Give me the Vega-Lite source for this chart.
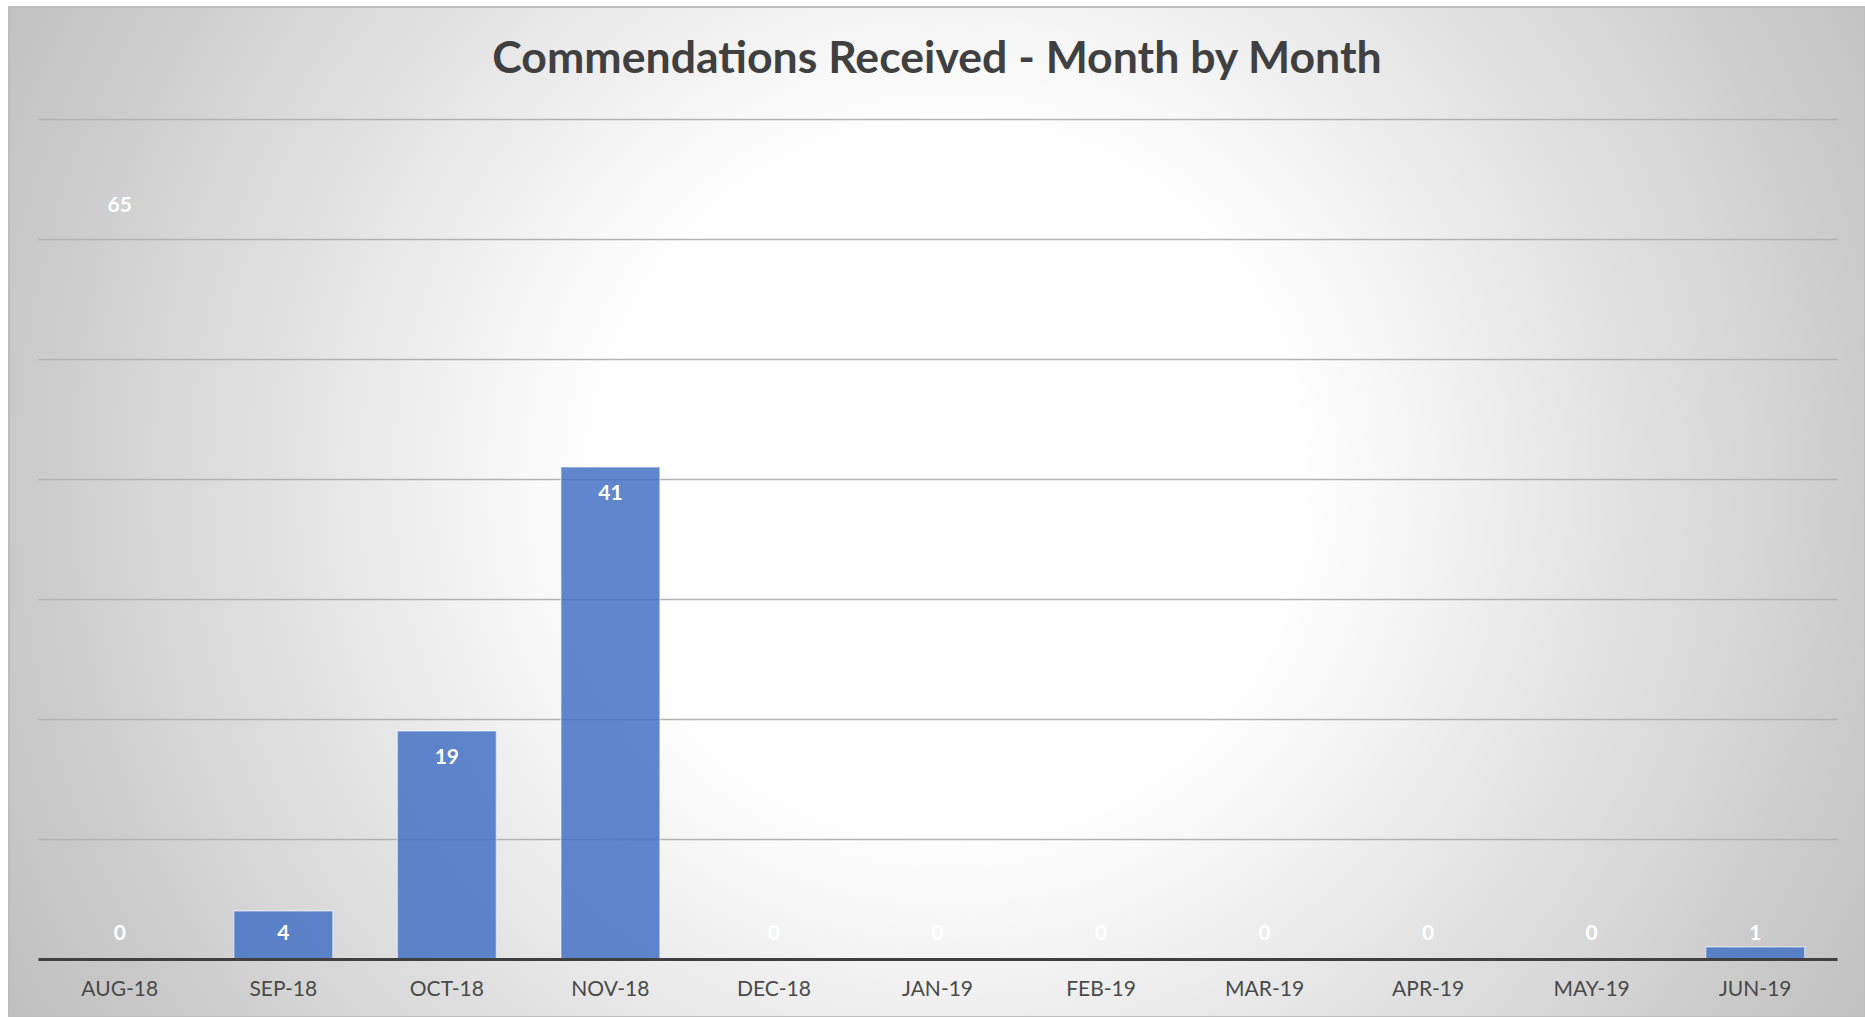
{
  "$schema": "https://vega.github.io/schema/vega-lite/v6.json",
  "width": 1856,
  "height": 1010,
  "autosize": {"type": "none"},
  "padding": {"left": 9, "top": 7, "right": 0, "bottom": 0},
  "background": "white",
  "title": {
    "text": "Commendations Received - Month by Month",
    "font": "Lato",
    "fontSize": 44.6,
    "fontWeight": "bold",
    "color": "#404040",
    "anchor": "middle",
    "frame": "group",
    "offset": -76
  },
  "config": {
    "view": {
      "stroke": "#bdbdbd",
      "strokeWidth": 2,
      "fill": {
        "gradient": "radial",
        "x1": 0.507, "y1": 0.483, "r1": 0,
        "x2": 0.507, "y2": 0.483, "r2": 0.582,
        "stops": [
          {"offset": 0, "color": "#ffffff"},
          {"offset": 0.32, "color": "#ffffff"},
          {"offset": 0.46, "color": "#f2f2f2"},
          {"offset": 0.6, "color": "#e4e4e4"},
          {"offset": 0.75, "color": "#d6d6d6"},
          {"offset": 0.88, "color": "#c9c9c9"},
          {"offset": 1, "color": "#c0c0c0"}
        ]
      }
    }
  },
  "data": {
    "values": [
      {"month": "AUG-18", "series": "Monthly", "count": 0},
      {"month": "SEP-18", "series": "Monthly", "count": 4},
      {"month": "OCT-18", "series": "Monthly", "count": 19},
      {"month": "NOV-18", "series": "Monthly", "count": 41},
      {"month": "DEC-18", "series": "Monthly", "count": 0},
      {"month": "JAN-19", "series": "Monthly", "count": 0},
      {"month": "FEB-19", "series": "Monthly", "count": 0},
      {"month": "MAR-19", "series": "Monthly", "count": 0},
      {"month": "APR-19", "series": "Monthly", "count": 0},
      {"month": "MAY-19", "series": "Monthly", "count": 0},
      {"month": "JUN-19", "series": "Monthly", "count": 1},
      {"month": "AUG-18", "series": "Total", "count": 65}
    ]
  },
  "encoding": {
    "x": {
      "field": "month",
      "type": "nominal",
      "sort": ["AUG-18", "SEP-18", "OCT-18", "NOV-18", "DEC-18", "JAN-19", "FEB-19", "MAR-19", "APR-19", "MAY-19", "JUN-19"],
      "scale": {"range": [29, 1828], "paddingInner": 0.395, "paddingOuter": 0.1975},
      "axis": {
        "title": null,
        "labelAngle": 0,
        "ticks": false,
        "offset": -58,
        "labelPadding": 19,
        "labelFont": "Lato",
        "labelFontSize": 21,
        "labelColor": "#4a4a4a",
        "domainColor": "#404040",
        "domainWidth": 3,
        "grid": false,
        "zindex": 1
      }
    },
    "y": {
      "field": "count",
      "type": "quantitative",
      "scale": {"domain": [0, 70], "range": [952, 112], "nice": false, "zero": true},
      "axis": {
        "title": null,
        "labels": false,
        "ticks": false,
        "domain": false,
        "grid": true,
        "values": [10, 20, 30, 40, 50, 60, 70],
        "gridColor": "#b2b2b2",
        "gridWidth": 1.5
      }
    }
  },
  "layer": [
    {
      "transform": [{"filter": "datum.series === 'Monthly' && datum.count > 0"}],
      "mark": {"type": "bar", "fill": "#4472c4", "fillOpacity": 0.85, "stroke": "#ffffff", "strokeOpacity": 0.45, "strokeWidth": 1.5}
    },
    {
      "transform": [{"filter": "datum.count >= 5"}],
      "mark": {"type": "text", "baseline": "middle", "align": "center", "dy": 27, "font": "Lato", "fontSize": 21, "fontWeight": "bold", "fill": "#ffffff"},
      "encoding": {"text": {"field": "count", "type": "quantitative"}}
    },
    {
      "transform": [{"filter": "datum.count < 5"}],
      "mark": {"type": "text", "baseline": "middle", "align": "center", "dy": -25, "font": "Lato", "fontSize": 21, "fontWeight": "bold", "fill": "#ffffff"},
      "encoding": {
        "y": {"datum": 0, "type": "quantitative"},
        "text": {"field": "count", "type": "quantitative"}
      }
    }
  ]
}
